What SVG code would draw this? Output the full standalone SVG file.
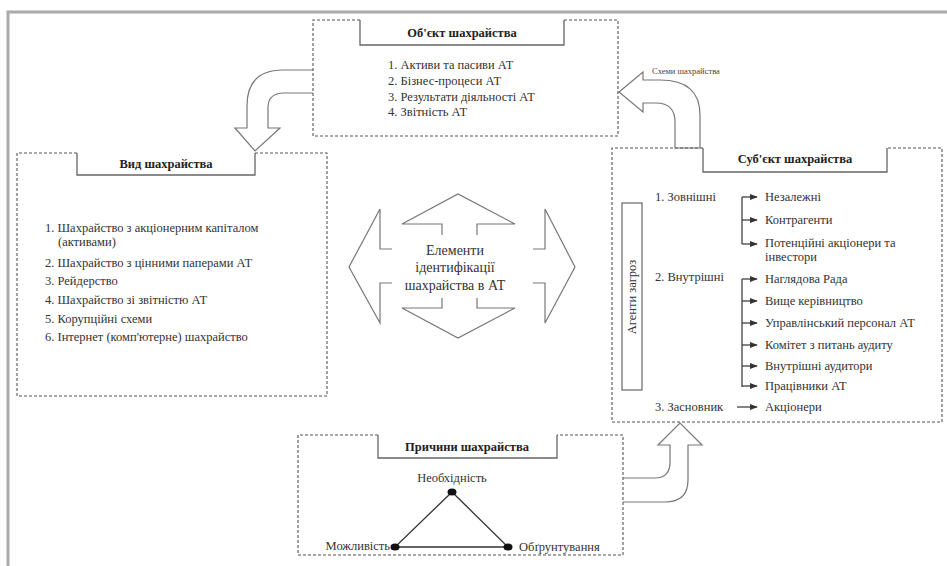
<svg xmlns="http://www.w3.org/2000/svg" width="947" height="566" viewBox="0 0 947 566">
<defs>
<marker id="ah" viewBox="0 0 10 10" refX="9" refY="5" markerWidth="8" markerHeight="8" markerUnits="userSpaceOnUse" orient="auto"><path d="M0,1 L10,5 L0,9 Z" fill="#333"/></marker>
</defs>
<style>
.dash{fill:none;stroke:#555;stroke-width:1.1;stroke-dasharray:3 2}
.tab{fill:none;stroke:#666;stroke-width:1.3}
.big{fill:#fff;stroke:#777;stroke-width:1.2;stroke-linejoin:miter}
.t{font-family:"Liberation Serif","DejaVu Serif",serif;font-size:12.5px;fill:#333}
.ti{font-family:"Liberation Serif","DejaVu Serif",serif;font-size:12.5px;font-weight:bold;fill:#222;text-anchor:middle}
.c{font-family:"Liberation Serif","DejaVu Serif",serif;font-size:14px;fill:#333;text-anchor:middle}
.br{fill:none;stroke:#333;stroke-width:1.2}
</style>
<rect width="947" height="566" fill="#fff"/>
<path d="M8,566 L8,12 L947,12" fill="none" stroke="#aaa" stroke-width="3"/>

<g id="connectors">
<path class="big" d="M313,70 L283,70 Q247,70 247,106 L247,128 L235,128 L255,151 L280,128 L268,128 L268,108 Q268,93 284,93 L313,93"/>
<path class="big" d="M619,92 L643,72 L643,80 L660,80 Q700,80 700,115 L700,148 L675,148 L675,122 Q675,103 656,103 L643,103 L643,112 Z"/>
<path class="big" d="M623,478 L655,478 Q670,478 670,462 L670,445 L658,445 L680,423 L702,445 L688,445 L688,480 Q688,502 665,502 L623,502"/>
<text x="652" y="74" style="font-family:'Liberation Serif',serif;font-size:8.5px;fill:#444">Схеми шахрайства</text>
</g>

<g id="object">
<path class="dash" d="M360,20 L313,20 L313,136 L618,136 L618,20 L564,20"/>
<path class="tab" d="M360,20 L360,45 L564,45 L564,20"/>
<text class="ti" x="462" y="37">Об'єкт шахрайства</text>
<text class="t" x="388" y="69">1. Активи та пасиви АТ</text>
<text class="t" x="388" y="85">2. Бізнес-процеси АТ</text>
<text class="t" x="388" y="101">3. Результати діяльності АТ</text>
<text class="t" x="388" y="116">4. Звітність АТ</text>
</g>

<g id="vid">
<path class="dash" d="M77,153 L17,153 L17,396 L327,396 L327,153 L255,153"/>
<path class="tab" d="M77,153 L77,175 L255,175 L255,153"/>
<text class="ti" x="166" y="168">Вид шахрайства</text>
<text class="t" x="45" y="232">1. Шахрайство з акціонерним капіталом</text>
<text class="t" x="58" y="246">(активами)</text>
<text class="t" x="45" y="267">2. Шахрайство з цінними паперами АТ</text>
<text class="t" x="45" y="285">3. Рейдерство</text>
<text class="t" x="45" y="304">4. Шахрайство зі звітністю АТ</text>
<text class="t" x="45" y="323">5. Корупційні схеми</text>
<text class="t" x="45" y="341">6. Інтернет (комп'ютерне) шахрайство</text>
</g>

<g id="center">
<polyline class="big" points="442,235 442,224 402,224 458,194 515,224 477,224 477,235"/>
<polyline class="big" points="442,298 442,308 402,308 458,338 515,308 477,308 477,298"/>
<polyline class="big" points="392,249 380,249 380,209 349,267 380,323 380,283 392,283"/>
<polyline class="big" points="533,249 545,249 545,209 575,267 545,323 545,283 533,283"/>
<text class="c" x="455" y="255">Елементи</text>
<text class="c" x="455" y="272">ідентифікації</text>
<text class="c" x="455" y="290">шахрайства в АТ</text>
</g>

<g id="subject">
<path class="dash" d="M703,148 L612,148 L612,422 L942,422 L942,148 L887,148"/>
<path class="tab" d="M703,148 L703,172 L887,172 L887,148"/>
<text class="ti" x="795" y="163">Суб'єкт шахрайства</text>
<rect x="622" y="203" width="20" height="187" fill="none" stroke="#666" stroke-width="1.2"/>
<text class="c" transform="translate(636,297) rotate(-90)" style="font-size:12.5px">Агенти загроз</text>
<text class="t" x="655" y="201">1. Зовнішні</text>
<text class="t" x="655" y="281">2. Внутрішні</text>
<text class="t" x="655" y="411">3. Засновник</text>
<path class="br" d="M742,244 L742,197"/>
<path class="br" marker-end="url(#ah)" d="M742,197 L757,197"/>
<path class="br" marker-end="url(#ah)" d="M742,220 L757,220"/>
<path class="br" marker-end="url(#ah)" d="M742,244 L757,244"/>
<path class="br" d="M742,387 L742,279"/>
<path class="br" marker-end="url(#ah)" d="M742,279 L757,279"/>
<path class="br" marker-end="url(#ah)" d="M742,301 L757,301"/>
<path class="br" marker-end="url(#ah)" d="M742,323 L757,323"/>
<path class="br" marker-end="url(#ah)" d="M742,345 L757,345"/>
<path class="br" marker-end="url(#ah)" d="M742,366 L757,366"/>
<path class="br" marker-end="url(#ah)" d="M742,386 L757,386"/>
<path class="br" marker-end="url(#ah)" d="M737,407 L757,407"/>
<text class="t" x="765" y="201">Незалежні</text>
<text class="t" x="765" y="224">Контрагенти</text>
<text class="t" x="765" y="247">Потенційні акціонери та</text>
<text class="t" x="765" y="261">інвестори</text>
<text class="t" x="765" y="283">Наглядова Рада</text>
<text class="t" x="765" y="305">Вище керівництво</text>
<text class="t" x="765" y="327">Управлінський персонал АТ</text>
<text class="t" x="765" y="349">Комітет з питань аудиту</text>
<text class="t" x="765" y="370">Внутрішні аудитори</text>
<text class="t" x="765" y="390">Працівники АТ</text>
<text class="t" x="765" y="411">Акціонери</text>
</g>

<g id="causes">
<path class="dash" d="M378,435 L298,435 L298,555 L623,555 L623,435 L557,435"/>
<path class="tab" d="M378,435 L378,458 L557,458 L557,435"/>
<text class="ti" x="467" y="451">Причини шахрайства</text>
<polygon points="452,492 395,547 508,547" fill="none" stroke="#333" stroke-width="1.3"/>
<ellipse cx="452" cy="492" rx="4.5" ry="3.5" fill="#111"/>
<ellipse cx="395" cy="547" rx="4.5" ry="3.5" fill="#111"/>
<ellipse cx="508" cy="547" rx="4.5" ry="3.5" fill="#111"/>
<text class="t" x="452" y="482" text-anchor="middle">Необхідність</text>
<text class="t" x="390" y="550" text-anchor="end">Можливість</text>
<text class="t" x="519" y="551">Обґрунтування</text>
</g>
</svg>
